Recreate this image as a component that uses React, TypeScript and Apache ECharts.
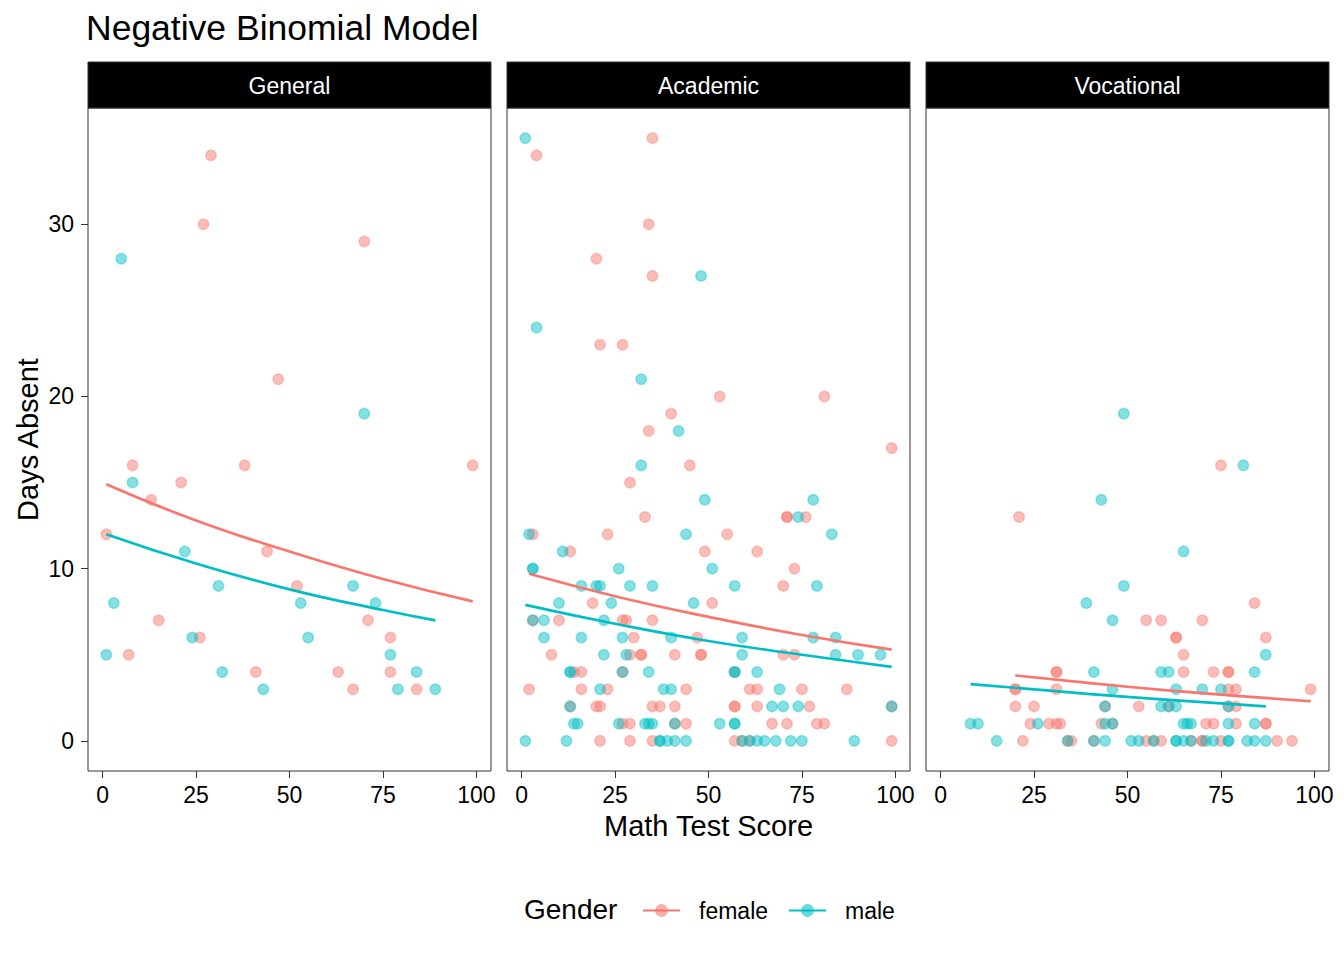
import * as echarts from "echarts";
import { useEffect, useRef } from "react";

// facets, groups and ticks
const programs = ["General", "Academic", "Vocational"];
const genders = ["female", "male"];
const xTicks = [0, 25, 50, 75, 100];
const yTicks = [0, 10, 20, 30];

// observed points: [math score, days absent]
const generalFemale = [
  [1, 12], [7, 5], [8, 16], [13, 14], [15, 7], [21, 15], [26, 6], [27, 30],
  [29, 34], [38, 16], [41, 4], [44, 11], [47, 21], [52, 9], [63, 4], [67, 3],
  [70, 29], [71, 7], [77, 6], [77, 4], [84, 3], [99, 16],
];
const generalMale = [
  [1, 5], [3, 8], [5, 28], [8, 15], [22, 11], [24, 6], [31, 9], [32, 4],
  [43, 3], [53, 8], [55, 6], [67, 9], [70, 19], [73, 8], [77, 5], [79, 3],
  [84, 4], [89, 3],
];
const academicFemale = [
  [35, 35], [4, 34], [34, 30], [20, 28], [35, 27], [21, 23], [27, 23], [53, 20],
  [81, 20], [40, 19], [34, 18], [99, 17], [45, 16], [29, 15], [33, 13], [71, 13],
  [71, 13], [76, 13], [3, 12], [23, 12], [55, 12], [13, 11], [49, 11], [63, 11],
  [73, 10], [70, 9], [19, 8], [51, 8], [3, 7], [10, 7], [27, 7], [28, 7],
  [35, 7], [30, 6], [47, 6], [8, 5], [29, 5], [32, 5], [32, 5], [41, 5],
  [48, 5], [48, 5], [70, 5], [73, 5], [14, 4], [16, 4], [27, 4], [57, 4],
  [2, 3], [16, 3], [23, 3], [44, 3], [61, 3], [63, 3], [75, 3], [87, 3],
  [13, 2], [20, 2], [21, 2], [35, 2], [37, 2], [41, 2], [57, 2], [57, 2],
  [63, 2], [77, 2], [99, 2], [27, 1], [29, 1], [41, 1], [44, 1], [67, 1],
  [71, 1], [79, 1], [81, 1], [21, 0], [29, 0], [35, 0], [57, 0], [59, 0],
  [61, 0], [99, 0],
];
const academicMale = [
  [1, 35], [48, 27], [4, 24], [32, 21], [42, 18], [32, 16], [49, 14], [78, 14],
  [74, 13], [2, 12], [44, 12], [83, 12], [11, 11], [3, 10], [3, 10], [26, 10],
  [51, 10], [16, 9], [20, 9], [21, 9], [29, 9], [35, 9], [57, 9], [79, 9],
  [10, 8], [24, 8], [46, 8], [3, 7], [6, 7], [22, 7], [6, 6], [16, 6],
  [27, 6], [40, 6], [59, 6], [78, 6], [84, 6], [22, 5], [28, 5], [59, 5],
  [84, 5], [90, 5], [96, 5], [13, 4], [13, 4], [27, 4], [34, 4], [57, 4],
  [57, 4], [63, 4], [21, 3], [38, 3], [40, 3], [69, 3], [13, 2], [67, 2],
  [70, 2], [74, 2], [99, 2], [14, 1], [15, 1], [26, 1], [33, 1], [34, 1],
  [35, 1], [41, 1], [53, 1], [57, 1], [57, 1], [1, 0], [12, 0], [37, 0],
  [37, 0], [39, 0], [41, 0], [44, 0], [59, 0], [61, 0], [63, 0], [65, 0],
  [68, 0], [72, 0], [75, 0], [89, 0],
];
const vocationalFemale = [
  [21, 13], [75, 16], [84, 8], [55, 7], [59, 7], [70, 7], [63, 6], [63, 6],
  [87, 6], [65, 5], [31, 4], [31, 4], [65, 4], [73, 4], [77, 4], [77, 4],
  [20, 3], [20, 3], [31, 3], [77, 3], [79, 3], [99, 3], [20, 2], [25, 2],
  [44, 2], [53, 2], [61, 2], [77, 2], [79, 2], [24, 1], [29, 1], [31, 1],
  [32, 1], [43, 1], [46, 1], [71, 1], [73, 1], [79, 1], [87, 1], [87, 1],
  [22, 0], [34, 0], [35, 0], [41, 0], [55, 0], [57, 0], [59, 0], [67, 0],
  [70, 0], [70, 0], [75, 0], [90, 0], [94, 0],
];
const vocationalMale = [
  [49, 19], [81, 16], [43, 14], [65, 11], [49, 9], [39, 8], [46, 7], [87, 5],
  [41, 4], [59, 4], [61, 4], [84, 4], [46, 3], [63, 3], [70, 3], [75, 3],
  [44, 2], [59, 2], [61, 2], [63, 2], [77, 2], [8, 1], [10, 1], [26, 1],
  [44, 1], [46, 1], [65, 1], [66, 1], [67, 1], [77, 1], [84, 1], [15, 0],
  [34, 0], [41, 0], [44, 0], [51, 0], [53, 0], [57, 0], [63, 0], [63, 0],
  [65, 0], [67, 0], [71, 0], [73, 0], [77, 0], [77, 0], [82, 0], [84, 0],
  [87, 0],
];

// fitted curves: [math score, predicted days]
const generalFemaleFit = [[1, 14.9], [25, 12.8], [50, 11.0], [75, 9.4], [99, 8.1]];
const generalMaleFit = [[1, 12.0], [25, 10.3], [50, 8.8], [75, 7.6], [89, 7.0]];
const academicFemaleFit = [[2, 9.7], [25, 8.4], [50, 7.2], [75, 6.15], [99, 5.3]];
const academicMaleFit = [[1, 7.9], [25, 6.8], [50, 5.8], [75, 5.0], [99, 4.3]];
const vocationalFemaleFit = [[20, 3.8], [40, 3.35], [60, 2.95], [80, 2.6], [99, 2.3]];
const vocationalMaleFit = [[8, 3.3], [30, 2.9], [50, 2.55], [70, 2.25], [87, 2.0]];

const points = [
  [generalFemale, generalMale],
  [academicFemale, academicMale],
  [vocationalFemale, vocationalMale],
];
const fits = [
  [generalFemaleFit, generalMaleFit],
  [academicFemaleFit, academicMaleFit],
  [vocationalFemaleFit, vocationalMaleFit],
];

const FONT = '"Liberation Sans", Arial, Helvetica, sans-serif';
const lineColors = ["#F8766D", "#00BFC4"];
const pointFills = ["rgba(248,118,109,0.6)", "rgba(0,191,196,0.6)"];
const pointBorders = ["rgba(248,118,109,0.45)", "rgba(0,191,196,0.45)"];

const panelLeft = [88, 507, 926];
const panelWidth = 403;
const panelTop = 108;
const panelHeight = 663;
const stripTop = 62;

export default function App() {
  const chartRef = useRef<HTMLDivElement | null>(null);

  useEffect(() => {
    if (!chartRef.current) return;
    const chart = echarts.init(chartRef.current, null, { renderer: "svg" });

    const option: echarts.EChartsOption = {
      animation: false,
      textStyle: { fontFamily: FONT },
      title: {
        text: "Negative Binomial Model",
        left: 86,
        top: 10,
        padding: 0,
        textStyle: { fontSize: 35.5, fontWeight: "normal", color: "#000", fontFamily: FONT },
      },
      legend: {
        data: genders,
        left: 642,
        top: 899,
        padding: 0,
        itemWidth: 37,
        itemHeight: 16,
        itemGap: 20,
        selectedMode: false,
        textStyle: { fontSize: 23, color: "#000", fontFamily: FONT, padding: [0, 0, 0, 14] },
      },
      grid: programs.map((_, i) => ({
        left: panelLeft[i],
        top: panelTop,
        width: panelWidth,
        height: panelHeight,
        show: true,
        borderColor: "#333",
        borderWidth: 1,
        backgroundColor: "transparent",
      })),
      xAxis: programs.map((_, i) => ({
        type: "value",
        gridIndex: i,
        min: -3.9,
        max: 103.9,
        position: "bottom",
        name: i === 1 ? "Math Test Score" : "",
        nameLocation: "middle",
        nameGap: 40,
        nameTextStyle: { fontSize: 29, color: "#000", fontFamily: FONT },
        axisLine: { show: false, onZero: false },
        splitLine: { show: false },
        axisTick: {
          show: true,
          inside: false,
          length: 7,
          customValues: xTicks,
          lineStyle: { color: "#333", width: 1 },
        },
        axisLabel: {
          customValues: xTicks,
          margin: 12,
          fontSize: 23,
          color: "#000",
          fontFamily: FONT,
        },
      })),
      yAxis: programs.map((_, i) => ({
        type: "value",
        gridIndex: i,
        min: -1.75,
        max: 36.75,
        position: "left",
        name: i === 0 ? "Days Absent" : "",
        nameLocation: "middle",
        nameGap: 46,
        nameTextStyle: { fontSize: 29, color: "#000", fontFamily: FONT },
        axisLine: { show: false, onZero: false },
        splitLine: { show: false },
        axisTick: {
          show: i === 0,
          inside: false,
          length: 7,
          customValues: yTicks,
          lineStyle: { color: "#333", width: 1 },
        },
        axisLabel: {
          show: i === 0,
          customValues: yTicks,
          margin: 14,
          fontSize: 23,
          color: "#000",
          fontFamily: FONT,
        },
      })),
      graphic: [
        ...programs.flatMap((p, i) => [
          {
            type: "rect",
            shape: { x: panelLeft[i], y: stripTop, width: panelWidth, height: panelTop - stripTop },
            style: { fill: "#000", stroke: "#333", lineWidth: 1 },
            silent: true,
          },
          {
            type: "text",
            x: panelLeft[i] + panelWidth / 2,
            y: 85.5,
            style: {
              text: p,
              fill: "#fff",
              fontSize: 23,
              fontFamily: FONT,
              align: "center",
              verticalAlign: "middle",
            },
            silent: true,
          },
        ]),
        {
          type: "text",
          x: 524,
          y: 909,
          style: {
            text: "Gender",
            fill: "#000",
            fontSize: 28,
            fontFamily: FONT,
            align: "left",
            verticalAlign: "middle",
          },
          silent: true,
        },
      ],
      series: [
        ...fits.flatMap((pair, i) =>
          pair.map((d, g) => ({
            type: "line" as const,
            name: genders[g],
            xAxisIndex: i,
            yAxisIndex: i,
            data: d,
            smooth: true,
            symbol: "circle",
            symbolSize: 11,
            showSymbol: false,
            silent: true,
            z: 4,
            lineStyle: { color: lineColors[g], width: 2.7 },
            itemStyle: { color: pointFills[g] },
          })),
        ),
        ...points.flatMap((pair, i) =>
          pair.map((d, g) => ({
            type: "scatter" as const,
            name: genders[g],
            xAxisIndex: i,
            yAxisIndex: i,
            data: d,
            symbolSize: 10.5,
            silent: true,
            z: 2,
            itemStyle: {
              color: pointFills[g],
              borderColor: pointBorders[g],
              borderWidth: 1.5,
            },
          })),
        ),
      ],
    };

    chart.setOption(option);
    return () => {
      chart.dispose();
    };
  }, []);

  return (
    <div
      ref={chartRef}
      style={{ position: "absolute", left: 0, top: 0, width: 1344, height: 960 }}
    />
  );
}
